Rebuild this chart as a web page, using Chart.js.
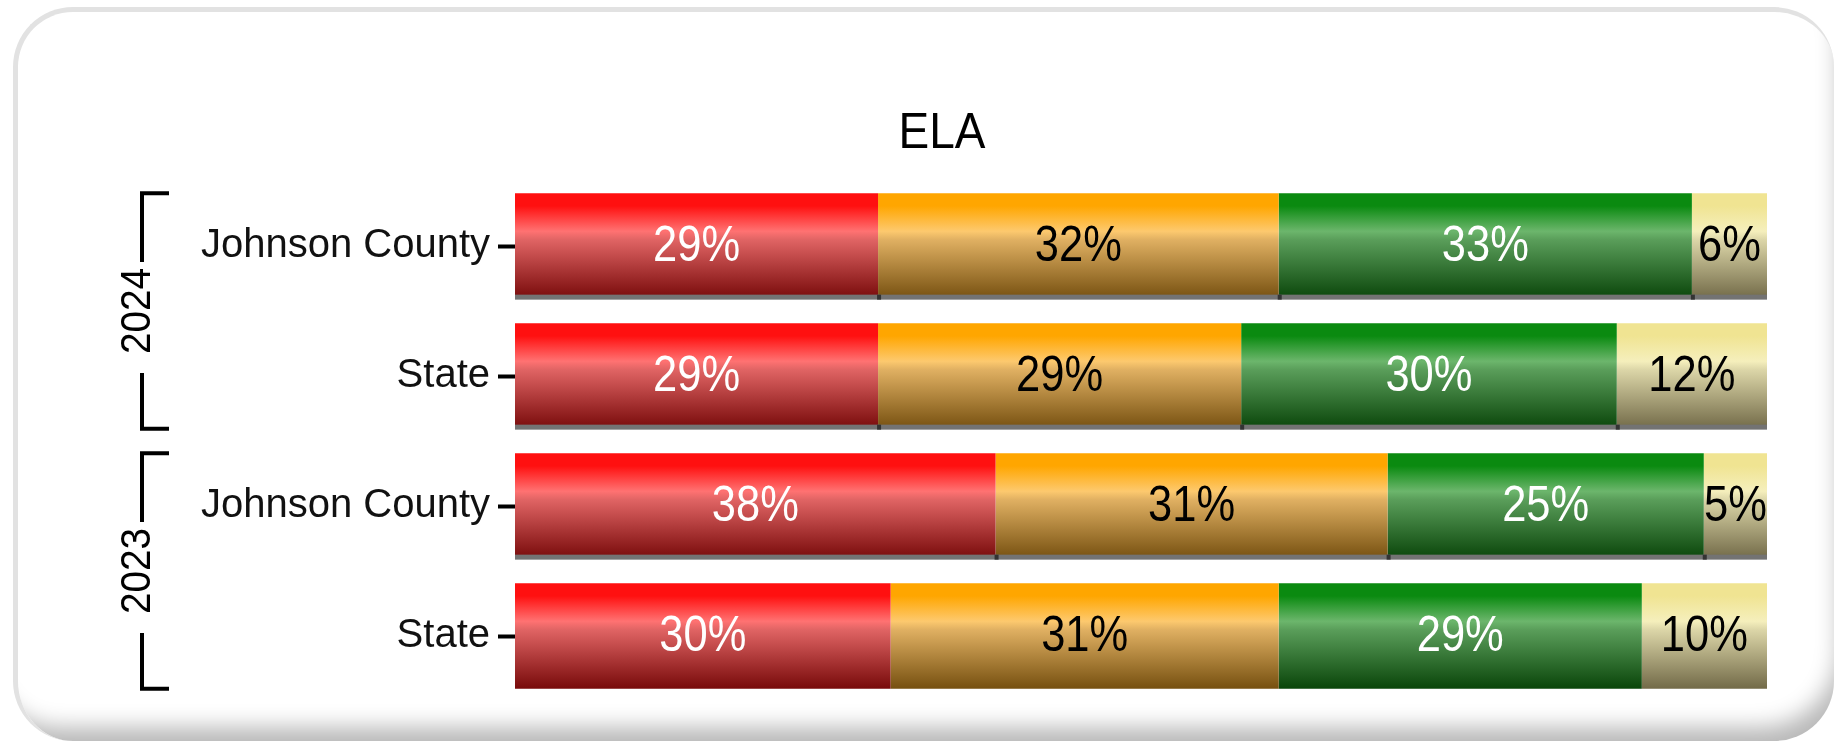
<!DOCTYPE html>
<html>
<head>
<meta charset="utf-8">
<script src="https://cdn.jsdelivr.net/npm/chart.js@4"></script>
<style>
    html, body { margin: 0; padding: 0; background: #fff; overflow: hidden; }
    #frame {
        position: absolute; left: 13px; top: 7px; width: 1816px; height: 729px;
        border-top: 5px solid #e2e2e2; border-left: 5px solid #e2e2e2;
        border-radius: 60px;
        box-shadow: inset -14px -32px 22px -18px rgba(0, 0, 0, 0.28);
    }
    #chart { position: absolute; left: 0; top: 0; }
</style>
</head>
<body>
<div id="frame"></div>
<canvas id="chart" width="1834" height="741"></canvas>
<script>
// ELA results, share of students per level
const title = 'ELA';
const categories = ['Johnson County', 'State', 'Johnson County', 'State'];
const years = ['2024', '2023'];          // each year covers two categories
const levelNames = ['Level 1', 'Level 2', 'Level 3', 'Level 4'];
const level1 = [29, 29, 38, 30];
const level2 = [32, 29, 31, 31];
const level3 = [33, 30, 25, 29];
const level4 = [6, 12, 5, 10];

const FONT = '"Liberation Sans", Arial, sans-serif';

// gradient stops per level: [top, light band, below band, bottom]
const levelColors = [
    ['#ff1010', '#ff7272', '#e06464', '#780a0a'],
    ['#ffa600', '#fdc96e', '#e0b062', '#765010'],
    ['#0a8a10', '#6cb66c', '#5a9e5a', '#0a450a'],
    ['#f0e492', '#f5efbc', '#dcd6a8', '#726a48']
];
const labelColors = ['#ffffff', '#000000', '#ffffff', '#000000'];

const levels = [level1, level2, level3, level4];
const rowSums = categories.map((c, i) => levels.reduce((s, l) => s + l[i], 0));

function barGradient(ctx, levelIndex) {
    const chart = ctx.chart;
    const yScale = chart.scales.y;
    if (!chart.chartArea || !yScale) return levelColors[levelIndex][0];
    const center = yScale.getPixelForValue(ctx.dataIndex);
    const half = chart.chartArea.height / categories.length * 0.81 / 2;
    const g = chart.ctx.createLinearGradient(0, center - half, 0, center + half);
    const c = levelColors[levelIndex];
    g.addColorStop(0, c[0]);
    g.addColorStop(0.12, c[0]);
    g.addColorStop(0.36, c[1]);
    g.addColorStop(0.44, c[2]);
    g.addColorStop(1, c[3]);
    return g;
}

function condensedText(ctx, text, x, y, sx) {
    ctx.save();
    ctx.translate(x, y);
    ctx.scale(sx, 1);
    ctx.fillText(text, 0, 0);
    ctx.restore();
}

const extras = {
    id: 'extras',
    afterDatasetsDraw(chart) {
        const ctx = chart.ctx;
        const area = chart.chartArea;
        // grey strip under the first three bars
        const first = chart.getDatasetMeta(0).data;
        ctx.save();
        for (let i = 0; i < categories.length - 1; i++) {
            const bar = first[i];
            const bottom = bar.y + bar.height / 2;
            ctx.fillStyle = '#737373';
            ctx.fillRect(area.left, bottom - 4, area.right - area.left, 5);
            ctx.fillStyle = '#333';
            levels.forEach((l, d) => {
                if (d === levels.length - 1) return;
                const el = chart.getDatasetMeta(d).data[i];
                ctx.fillRect(el.x - 1, bottom - 4, 4, 5);
            });
        }
        // value labels
        ctx.font = '50px ' + FONT;
        ctx.textAlign = 'center';
        ctx.textBaseline = 'middle';
        levels.forEach((l, d) => {
            chart.getDatasetMeta(d).data.forEach((el, i) => {
                const left = el.base;
                const right = el.x;
                ctx.fillStyle = labelColors[d];
                condensedText(ctx, l[i] + '%', (left + right) / 2, el.y + 1, 0.87);
            });
        });
        // title
        ctx.fillStyle = '#000';
        ctx.font = '50px ' + FONT;
        condensedText(ctx, title, 942, 134, 0.92);
        // year brackets
        const yScale = chart.scales.y;
        const step = area.height / categories.length;
        const half = step * 0.81 / 2;
        years.forEach((yr, g) => {
            const top = yScale.getPixelForValue(g * 2) - half;
            const bottom = yScale.getPixelForValue(g * 2 + 1) + half;
            const mid = (yScale.getPixelForValue(g * 2) + yScale.getPixelForValue(g * 2 + 1)) / 2;
            const x = 142;
            ctx.strokeStyle = '#000';
            ctx.lineWidth = 4;
            ctx.beginPath();
            ctx.moveTo(169, top);
            ctx.lineTo(x, top);
            ctx.lineTo(x, mid - 49);
            ctx.moveTo(x, mid + 62);
            ctx.lineTo(x, bottom);
            ctx.lineTo(169, bottom);
            ctx.stroke();
            ctx.save();
            ctx.translate(138, mid);
            ctx.rotate(-Math.PI / 2);
            ctx.font = '43px ' + FONT;
            ctx.fillStyle = '#000';
            condensedText(ctx, yr, 0, 0, 0.9);
            ctx.restore();
        });
        ctx.restore();
    }
};

new Chart(document.getElementById('chart'), {
    type: 'bar',
    data: {
        labels: categories,
        datasets: levels.map((l, d) => ({
            label: levelNames[d],
            data: l.map((v, i) => v / rowSums[i] * 100),
            backgroundColor: ctx => barGradient(ctx, d),
            borderWidth: 0,
            barPercentage: 0.81,
            categoryPercentage: 1
        }))
    },
    options: {
        indexAxis: 'y',
        responsive: false,
        animation: false,
        devicePixelRatio: 1,
        layout: { padding: { top: 181, bottom: 40, right: 67, left: 0 } },
        plugins: {
            legend: { display: false },
            title: { display: false },
            tooltip: { enabled: false }
        },
        scales: {
            x: { stacked: true, min: 0, max: 100, display: false },
            y: {
                stacked: true,
                afterFit: scale => { scale.width = 515; },
                border: { display: false },
                grid: {
                    offset: false,
                    drawOnChartArea: false,
                    drawTicks: true,
                    tickLength: 17,
                    tickWidth: 4,
                    tickColor: '#000'
                },
                ticks: { font: { family: FONT, size: 40 }, color: '#111', padding: 8 }
            }
        }
    },
    plugins: [extras]
});
</script>
</body>
</html>
